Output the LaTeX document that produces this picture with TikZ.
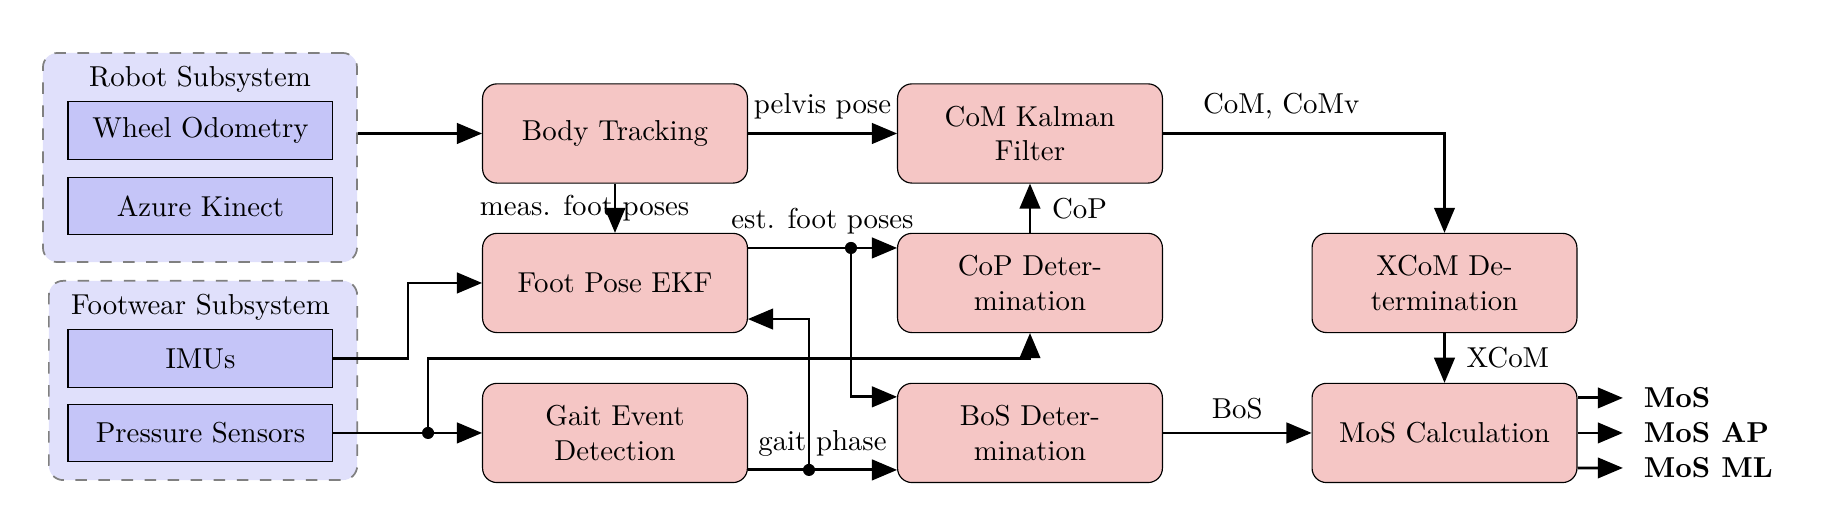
\documentclass[tikz,border=0pt]{standalone}
\usepackage[usenames,dvipsnames]{xcolor}
\usepackage{tikz}
\usetikzlibrary{arrows,backgrounds}

\definecolor{blkpink}{RGB}{245,198,197}
\definecolor{senslav}{RGB}{197,197,248}
\definecolor{grplav}{RGB}{224,224,251}

\tikzset{
  blk/.style={draw, rounded corners=5pt, fill=blkpink, text width=2.9cm, align=center,
    minimum width=3.23cm, minimum height=1.21cm},
  sens/.style={draw, fill=senslav, minimum width=3.23cm, minimum height=0.7cm},
  grp/.style={draw=gray, semithick, dash pattern=on 4pt off 4pt, rounded corners=5pt, fill=grplav},
  flow/.style={-triangle 45, line width=1pt},
  jn/.style={circle, fill, inner sep=0pt, minimum size=4.2pt},
}

\begin{document}
\begin{tikzpicture}
  \useasboundingbox (0,0) rectangle (22.366,-6.341);

  % subsystems
  \draw (2.439,-1.921) node[grp, minimum width=3.83cm, minimum height=2.55cm] (robot) {};
  \draw (2.439,-0.963) node (robottitle) {Robot Subsystem};
  \draw (2.445,-1.591) node[sens] (wheel) {Wheel Odometry};
  \draw (2.445,-2.512) node[sens] (azure) {Azure Kinect};

  \draw (2.476,-4.640) node[grp, minimum width=3.76cm, minimum height=2.43cm] (foot) {};
  \draw (2.445,-3.744) node (foottitle) {Footwear Subsystem};
  \draw (2.445,-4.372) node[sens] (imus) {IMUs};
  \draw (2.445,-5.280) node[sens] (press) {Pressure Sensors};

  % processing blocks
  \draw (7.50,-1.628) node[blk] (body) {Body Tracking};
  \draw (7.50,-3.451) node[blk] (ekf) {Foot Pose EKF};
  \draw (7.50,-5.280) node[blk] (gait) {Gait Event Detection};
  \draw (12.561,-1.628) node[blk] (comkf) {CoM Kalman Filter};
  \draw (12.561,-3.451) node[blk] (cop) {CoP Determination};
  \draw (12.561,-5.280) node[blk] (bos) {BoS Determination};
  \draw (17.616,-3.451) node[blk] (xcom) {XCoM Determination};
  \draw (17.616,-5.280) node[blk] (mos) {MoS Calculation};

  % outputs
  \draw (19.79,-4.853) node[anchor=west, inner xsep=0.25cm] (mosall) {\textbf{MoS}};
  \draw (19.79,-5.280) node[anchor=west, inner xsep=0.25cm] (mosap) {\textbf{MoS AP}};
  \draw (19.79,-5.707) node[anchor=west, inner xsep=0.25cm] (mosml) {\textbf{MoS ML}};

  % branch points
  \coordinate (estsplit) at (10.378,-3.024);
  \coordinate (gaitsplit) at (9.866,-5.731);
  \coordinate (presssplit) at (5.220,-5.280);
  \coordinate (imubend) at (4.976,-4.372);

  \draw[flow] (robot.east |- body.west) -- (body.west);
  \draw[flow] (body) -- node[above, yshift=1pt] {pelvis pose} (comkf);
  \draw[flow] (body) -- node[xshift=-0.37cm] {meas. foot poses} (ekf);
  \draw[flow] (ekf.east |- estsplit) -- node[above, yshift=1pt] {est. foot poses} (cop.west |- estsplit);
  \draw[flow] (estsplit) |- ([yshift=0.44cm]bos.west);
  \path[flow] (cop) edge node[label=right:CoP] {} (comkf);
  \draw[flow] (comkf) -| node[pos=0.21, above, yshift=1pt] {CoM, CoMv} (xcom);
  \path[flow] (xcom) edge node[label=right:XCoM] {} (mos);
  \draw[flow] (bos) -- node[above, yshift=1pt] {BoS} (mos);

  \draw[flow] (imus) -- (imubend) |- (ekf);
  \draw[flow] (press) -- (gait);
  \draw[flow] (presssplit) -- (presssplit |- imus) -| (cop.south);
  \draw[flow] (gait.east |- gaitsplit) -- node[above, yshift=1pt] {gait phase} (bos.west |- gaitsplit);
  \draw[flow] (gaitsplit) |- ([yshift=-0.44cm]ekf.east);

  \draw[flow] ([yshift=0.427cm]mos.east) -- (mosall.west);
  \draw[flow] (mos.east) -- (mosap.west);
  \draw[flow] ([yshift=-0.427cm]mos.east) -- (mosml.west);

  \node[jn] (estdot) at (estsplit) {};
  \node[jn] (gaitdot) at (gaitsplit) {};
  \node[jn] (pressdot) at (presssplit) {};
\end{tikzpicture}
\end{document}
